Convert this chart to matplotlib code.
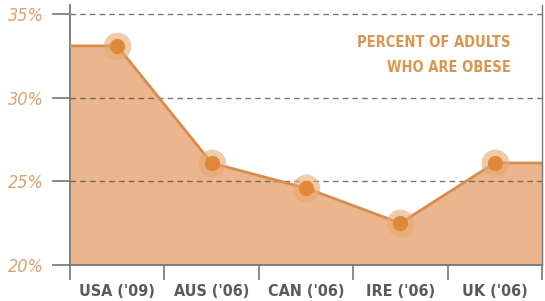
import matplotlib
matplotlib.use("Agg")
import matplotlib.pyplot as plt

categories = ["USA ('09)", "AUS ('06)", "CAN ('06)", "IRE ('06)", "UK ('06)"]
values = [33.1, 26.1, 24.6, 22.5, 26.1]
ytick_vals = [20, 25, 30, 35]
ytick_labels = ["20%", "25%", "30%", "35%"]
title_lines = "PERCENT OF ADULTS\nWHO ARE OBESE"

fig = plt.figure(figsize=(5.45, 3.01), dpi=100)
ax = fig.add_axes([0.1284, 0.1196, 0.9945 - 0.1284, 0.983 - 0.1196])

n = len(values)
xs = [i + 0.5 for i in range(n)]
fx = [0] + xs + [n]
fy = [values[0]] + values + [values[-1]]

fill_c = "#EBB68D"
line_c = "#D98B4C"
ax.fill_between(fx, 20, fy, color=fill_c, lw=0, zorder=1)
ax.plot(fx, fy, color=line_c, lw=2, zorder=3)
ax.plot(xs, values, "o", ms=20, color="#E8A772", alpha=0.6, mec="none", zorder=4)
ax.plot(xs, values, "o", ms=11, color="#E0883A", mec="none", zorder=5)

for yv in ytick_vals[1:]:
    ax.axhline(yv, color="#4a4a4a", lw=1, ls=(0, (4, 3)), alpha=0.75, zorder=2)

ax.set_xlim(0, n)
ax.set_ylim(20, 35.54)

ax.set_yticks(ytick_vals)
ax.set_yticklabels(ytick_labels, fontstyle="italic", fontstretch="condensed",
                   color="#D9A36E", fontsize=13)
ax.tick_params(axis="y", length=13, width=1.2, color="#777777", pad=6)

ax.set_xticks(range(n + 1))
ax.set_xticklabels([])
ax.set_xticks(xs, minor=True)
ax.set_xticklabels(categories, minor=True, fontweight="bold", fontstretch="condensed",
                   color="#5a5a5a", fontsize=11.5)
ax.tick_params(axis="x", which="major", length=11, width=1.2, color="#777777")
ax.tick_params(axis="x", which="minor", length=0, pad=14)

for s in ["left", "bottom", "right"]:
    ax.spines[s].set_color("#777777")
    ax.spines[s].set_linewidth(1.3)
ax.spines["top"].set_visible(False)
ax.spines["right"].set_linewidth(1.0)

ax.text(0.934, 0.808, title_lines, transform=ax.transAxes, ha="right", va="center",
        fontweight="bold", fontstretch="condensed", color="#D9964E", fontsize=10.5,
        linespacing=1.8, zorder=6)

fig.savefig("out.png", dpi=100)
